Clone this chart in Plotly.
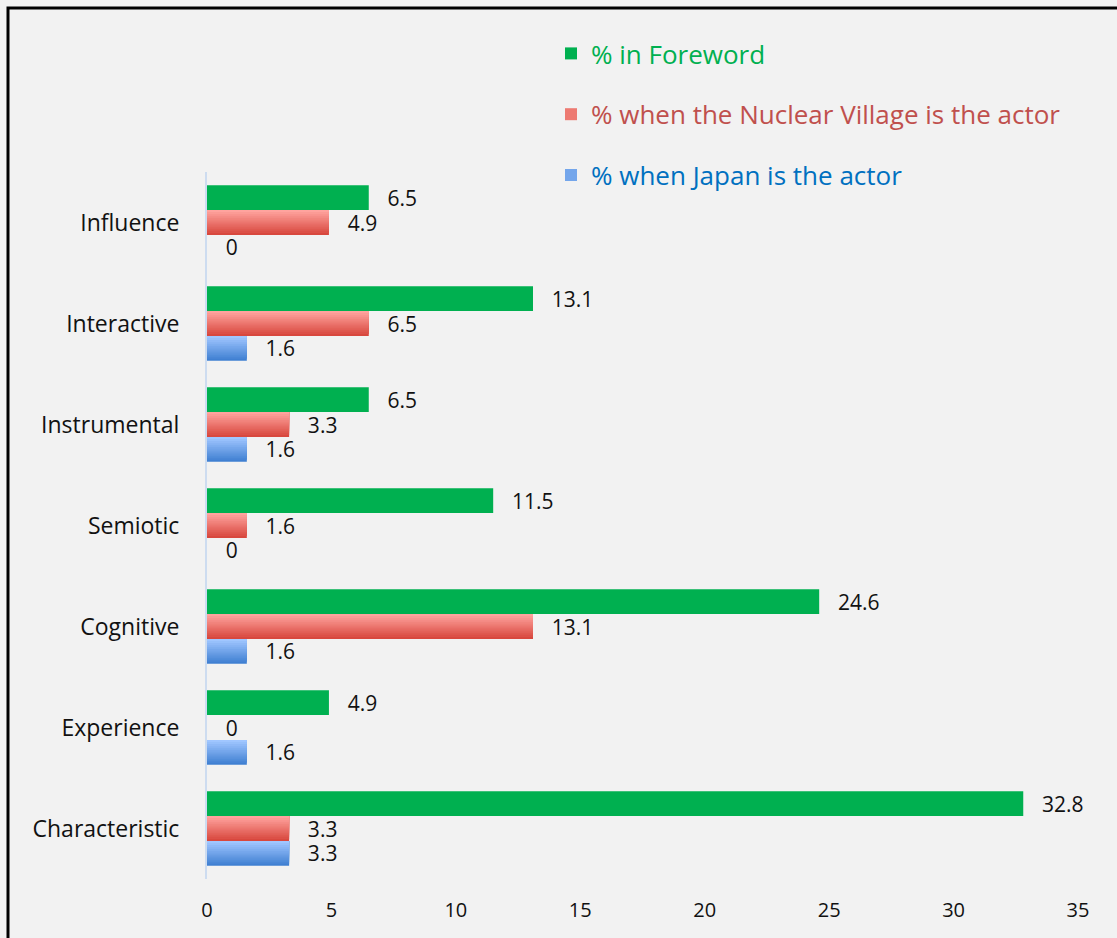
import plotly.graph_objects as go

# Categories, listed top to bottom
categories = ["Influence", "Interactive", "Instrumental", "Semiotic",
              "Cognitive", "Experience", "Characteristic"]

foreword = [6.5, 13.1, 6.5, 11.5, 24.6, 4.9, 32.8]
nuclear_village = [4.9, 6.5, 3.3, 1.6, 13.1, 0, 3.3]
japan = [0, 1.6, 1.6, 0, 1.6, 1.6, 3.3]

series_names = ["% in Foreword",
                "% when the Nuclear Village is the actor",
                "% when Japan is the actor"]

FONT = "Open Sans"
GROUP_W = 0.74
BAR_W = GROUP_W / 3
N_BANDS = 12


def lerp(c1, c2, t):
    return "rgb(%d,%d,%d)" % tuple(round(a + (b - a) * t) for a, b in zip(c1, c2))


# (values, legend name, text colour, top colour, bottom colour)
series = [
    (foreword, series_names[0], "#00b050", (0, 176, 80), (0, 176, 80)),
    (nuclear_village, series_names[1], "#c0504d", (255, 163, 158), (216, 72, 62)),
    (japan, series_names[2], "#0070c0", (160, 198, 255), (64, 128, 210)),
]

fig = go.Figure()

for s, (vals, name, txtcol, top, bot) in enumerate(series):
    base = -GROUP_W / 2 + s * BAR_W
    gradient = top != bot
    bands = N_BANDS if gradient else 1
    # Gradient: paint the full bar in the bottom colour, then overlay
    # progressively shorter slices anchored at the top, each a little lighter.
    for k in range(bands):
        frac = (bands - k) / bands
        t = 1 - k / (bands - 1) if bands > 1 else 0
        legend_band = (k == bands // 2) if gradient else True
        fig.add_trace(go.Bar(
            y=categories, x=vals, orientation="h",
            offset=base, width=BAR_W * frac,
            marker=dict(color=lerp(top, bot, t), line=dict(width=0)),
            name='<span style="color:%s">%s</span>' % (txtcol, name),
            legendgroup=name, showlegend=legend_band,
            legendrank=s + 1, hoverinfo="skip",
        ))
    # value labels sit just past each bar's end
    fig.add_trace(go.Bar(
        y=categories, x=vals, orientation="h",
        offset=base, width=BAR_W,
        marker=dict(color="rgba(0,0,0,0)", line=dict(width=0)),
        text=[f"\u2002\u2005{v:g}" for v in vals],
        textposition="outside", constraintext="none", cliponaxis=False,
        textfont=dict(family=FONT, size=21, color="#111111"),
        showlegend=False, legendgroup=name, hoverinfo="x",
    ))

PLOT_L, PLOT_R, PLOT_T, PLOT_B = 207, 1078, 172, 879
W, H = 1117, 938
pw, ph = PLOT_R - PLOT_L, PLOT_B - PLOT_T


def px_x(p):
    return (p - PLOT_L) / pw


def px_y(p):
    return (PLOT_B - p) / ph


fig.update_layout(
    width=W, height=H,
    margin=dict(l=PLOT_L, r=W - PLOT_R, t=PLOT_T, b=H - PLOT_B),
    paper_bgcolor="#f2f2f2", plot_bgcolor="#f2f2f2",
    barmode="overlay",
    font=dict(family=FONT, size=20, color="#111111"),
    showlegend=True,
    legend=dict(
        x=px_x(551), y=px_y(30), xanchor="left", yanchor="top",
        bgcolor="rgba(0,0,0,0)", font=dict(family=FONT, size=26),
        tracegroupgap=24, itemclick=False,
    ),
    xaxis=dict(
        range=[0, 35], dtick=5, tick0=0, showgrid=False, zeroline=False,
        showline=False, ticks="", ticklabelstandoff=17,
        tickfont=dict(family=FONT, size=20, color="#111111"),
        fixedrange=True,
    ),
    yaxis=dict(
        type="category", categoryorder="array", categoryarray=categories,
        autorange="reversed", showgrid=False, zeroline=False,
        showline=True, linecolor="#cddcf0", linewidth=2,
        ticks="", ticklabelstandoff=21,
        tickfont=dict(family=FONT, size=23, color="#111111"),
        fixedrange=True,
    ),
    shapes=[dict(
        type="rect", xref="paper", yref="paper",
        x0=px_x(8), x1=px_x(1130), y0=px_y(960), y1=px_y(8),
        line=dict(color="#000000", width=3), fillcolor="rgba(0,0,0,0)",
        layer="above",
    )],
)

fig.write_html("out.html")
